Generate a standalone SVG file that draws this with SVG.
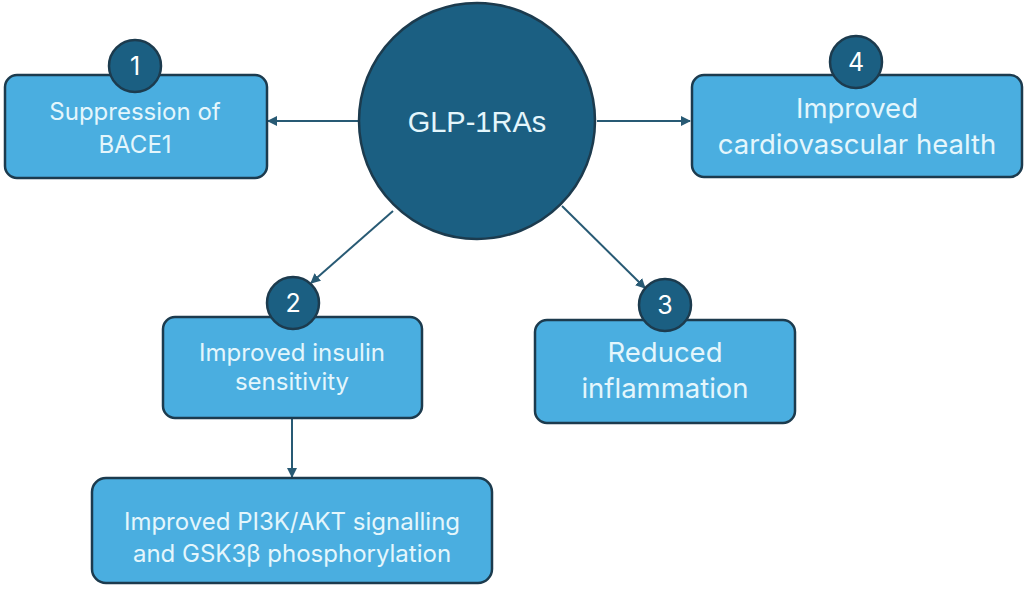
<svg xmlns="http://www.w3.org/2000/svg" width="1024" height="597" viewBox="0 0 1024 597">
<defs>
<style>
.box{fill:#4aaee0;stroke:#1c3b4e;stroke-width:2.5}
.badge{fill:#1b5f82;stroke:#1c3b4e;stroke-width:2.5}
.t{font-family:Inter,"Open Sans","Liberation Sans",sans-serif;fill:#e4f6fc;text-anchor:middle}
.s22{font-size:24px}
.s26{font-size:27.5px}
.num{font-family:Inter,"Liberation Sans",sans-serif;fill:#ffffff;text-anchor:middle;font-size:25px}
.conn{stroke:#285a74;stroke-width:2;fill:none;marker-end:url(#ah)}
</style>
<marker id="ah" viewBox="0 0 10 10" refX="9" refY="5" markerWidth="5" markerHeight="5" orient="auto">
<path d="M0,0 L10,5 L0,10 z" fill="#285a74"/>
</marker>
</defs>
<rect width="1024" height="597" fill="#ffffff"/>
<g id="connectors">
<line class="conn" x1="358" y1="121" x2="268" y2="121"/>
<line class="conn" x1="597" y1="121" x2="690" y2="121"/>
<line class="conn" x1="393" y1="211" x2="311" y2="283"/>
<line class="conn" x1="562" y1="206" x2="645" y2="288"/>
<line class="conn" x1="292" y1="419" x2="292" y2="477"/>
</g>
<g id="glp1">
<circle cx="477" cy="121" r="118" class="badge"/>
<text x="477" y="132" style="font-family:'Liberation Sans',Arial,sans-serif;font-size:29px;fill:#e4f6fc;text-anchor:middle">GLP-1RAs</text>
</g>
<g id="node1">
<rect class="box" x="5" y="75" width="262" height="103" rx="12"/>
<circle class="badge" cx="135" cy="66" r="26"/>
<text class="num" x="135" y="75">1</text>
<text class="t s22" x="135" y="120">Suppression of</text>
<text class="t s22" x="135" y="153">BACE1</text>
</g>
<g id="node4">
<rect class="box" x="692" y="75" width="330" height="102" rx="12"/>
<circle class="badge" cx="856" cy="62" r="26"/>
<text class="num" x="856" y="71">4</text>
<text class="t s26" x="857" y="118">Improved</text>
<text class="t s26" x="857" y="154">cardiovascular health</text>
</g>
<g id="node2">
<rect class="box" x="163" y="317" width="259" height="101" rx="12"/>
<circle class="badge" cx="293" cy="303" r="26"/>
<text class="num" x="293" y="312">2</text>
<text class="t s22" x="292" y="361">Improved insulin</text>
<text class="t s22" x="292" y="390">sensitivity</text>
</g>
<g id="node3">
<rect class="box" x="535" y="320" width="260" height="103" rx="12"/>
<circle class="badge" cx="665" cy="305" r="26"/>
<text class="num" x="665" y="314">3</text>
<text class="t s26" x="665" y="362">Reduced</text>
<text class="t s26" x="665" y="398">inflammation</text>
</g>
<g id="node5">
<rect class="box" x="92" y="478" width="400" height="105" rx="14"/>
<text class="t s22" x="292" y="530">Improved PI3K/AKT signalling</text>
<text class="t s22" x="292" y="562">and GSK3β phosphorylation</text>
</g>
</svg>
